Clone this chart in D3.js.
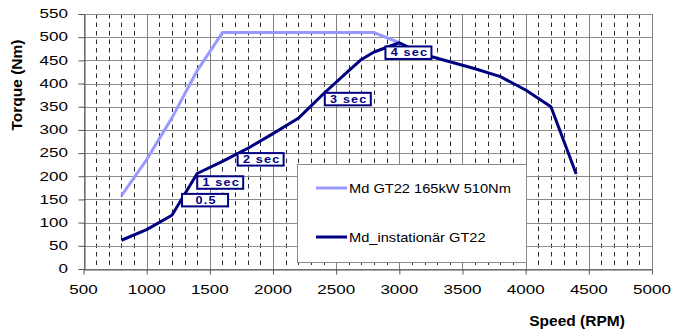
<!DOCTYPE html>
<html>
<head>
<meta charset="utf-8">
<script src="https://cdn.jsdelivr.net/npm/d3@7"></script>
<style>
  body { margin: 0; background: #fff; }
  text { font-family: "Liberation Sans", Arial, sans-serif; }
</style>
</head>
<body>
<div id="chart"></div>
<script>
// speed in RPM, torque in Nm
var fullLoadRpm = [800, 1000, 1200, 1400, 1600, 2800, 3000];
var fullLoadTorque = [158, 236, 326, 428, 510, 510, 488];

var transientRpm = [800, 1000, 1200, 1400, 1600, 1800, 2000, 2200, 2400, 2600, 2700, 2800, 3000, 3200, 3400, 3600, 3800, 4000, 4200, 4400];
var transientTorque = [62, 85, 116, 206, 232, 260, 292, 325, 378, 428, 452, 468, 488, 462, 447, 432, 415, 386, 350, 205];

var seriesNames = ["Md GT22 165kW 510Nm", "Md_instationär GT22"];
var seriesColors = ["#9999ff", "#000080"];

var xTicks = [500, 1000, 1500, 2000, 2500, 3000, 3500, 4000, 4500, 5000];
var yTicks = [0, 50, 100, 150, 200, 250, 300, 350, 400, 450, 500, 550];

// time markers along the transient curve (box anchor: rpm, torque)
var markerLabels = ["0.5", "1 sec", "2 sec", "3 sec", "4 sec"];
var markerRpm = [1280, 1400, 1720, 2410, 2890];
var markerTorque = [162, 200, 250, 380, 480];

var width = 673, height = 331;
var margin = {left: 83.5, right: 21, top: 14, bottom: 62};

var svg = d3.select("#chart").append("svg")
  .attr("width", width)
  .attr("height", height);

var x = d3.scaleLinear().domain([500, 5000]).range([margin.left, width - margin.right]);
var y = d3.scaleLinear().domain([0, 550]).range([height - margin.bottom, margin.top]);

var grid = svg.append("g");

// dashed minor verticals every 100 rpm
var minor = d3.range(600, 5000, 100).filter(function (v) { return v % 500 !== 0; });
grid.selectAll(".minor")
  .data(minor)
  .enter()
  .append("line")
  .attr("x1", function (d) { return Math.round(x(d)) + 0.5; })
  .attr("x2", function (d) { return Math.round(x(d)) + 0.5; })
  .attr("y1", y(550))
  .attr("y2", y(0))
  .attr("stroke", "#111")
  .attr("stroke-width", 0.9)
  .attr("stroke-dasharray", "4.5,4");

// solid horizontal grid
grid.selectAll(".hgrid")
  .data(yTicks)
  .enter()
  .append("line")
  .attr("x1", x(500))
  .attr("x2", x(5000))
  .attr("y1", function (d) { return Math.round(y(d)) + 0.5; })
  .attr("y2", function (d) { return Math.round(y(d)) + 0.5; })
  .attr("stroke", "#8c8c8c")
  .attr("stroke-width", 1);

// solid vertical grid
grid.selectAll(".vgrid")
  .data(xTicks)
  .enter()
  .append("line")
  .attr("x1", function (d) { return Math.round(x(d)) + 0.5; })
  .attr("x2", function (d) { return Math.round(x(d)) + 0.5; })
  .attr("y1", y(550))
  .attr("y2", y(0))
  .attr("stroke", "#808080")
  .attr("stroke-width", 1);

// axes
var xAxis = svg.append("g")
  .attr("transform", "translate(0," + (Math.round(y(0)) + 0.5) + ")")
  .call(d3.axisBottom(x).tickValues(xTicks).tickSize(5).tickSizeOuter(0).tickFormat(""));
var yAxis = svg.append("g")
  .attr("transform", "translate(" + (Math.round(x(500)) + 0.5) + ",0)")
  .call(d3.axisLeft(y).tickValues(yTicks).tickSize(6).tickSizeOuter(0).tickFormat(""));
[xAxis, yAxis].forEach(function (a) {
  a.select(".domain").attr("stroke", "#555");
  a.selectAll(".tick line").attr("stroke", "#555");
});

// tick labels, glyphs are stretched horizontally in the original
svg.append("g").selectAll("text")
  .data(xTicks)
  .enter()
  .append("text")
  .attr("transform", function (d) { return "translate(" + x(d) + ",294) scale(1.42,1)"; })
  .attr("text-anchor", "middle")
  .attr("font-size", 12)
  .attr("fill", "#000")
  .text(function (d) { return d; });

svg.append("g").selectAll("text")
  .data(yTicks)
  .enter()
  .append("text")
  .attr("transform", function (d) { return "translate(68," + (y(d) + 4.3) + ") scale(1.42,1)"; })
  .attr("text-anchor", "end")
  .attr("font-size", 12)
  .attr("fill", "#000")
  .text(function (d) { return d; });

// axis titles
svg.append("text")
  .attr("transform", "translate(22,85) rotate(-90)")
  .attr("text-anchor", "middle")
  .attr("font-size", 15.5)
  .attr("font-weight", "bold")
  .text("Torque (Nm)");

svg.append("text")
  .attr("x", 577)
  .attr("y", 326)
  .attr("text-anchor", "middle")
  .attr("font-size", 15.5)
  .attr("font-weight", "bold")
  .text("Speed (RPM)");

// lines
var line = d3.line()
  .x(function (d) { return x(d[0]); })
  .y(function (d) { return y(d[1]); });

var series = [d3.zip(fullLoadRpm, fullLoadTorque), d3.zip(transientRpm, transientTorque)];
svg.append("g").selectAll("path")
  .data(series)
  .enter()
  .append("path")
  .attr("d", line)
  .attr("fill", "none")
  .attr("stroke", function (d, i) { return seriesColors[i]; })
  .attr("stroke-width", 3)
  .attr("stroke-linejoin", "round");

// time marker boxes
var markers = svg.append("g").selectAll("g")
  .data(markerLabels)
  .enter()
  .append("g")
  .attr("transform", function (d, i) {
    return "translate(" + x(markerRpm[i]) + "," + y(markerTorque[i]) + ")";
  });
markers.append("rect")
  .attr("width", 46)
  .attr("height", 12.5)
  .attr("fill", "#fff")
  .attr("stroke", "#000080")
  .attr("stroke-width", 2);
markers.append("text")
  .attr("transform", "translate(24,10) scale(1.15,1)")
  .attr("text-anchor", "middle")
  .attr("font-size", 11)
  .attr("font-weight", "bold")
  .attr("letter-spacing", 1)
  .attr("fill", "#000080")
  .text(function (d) { return d; });

// legend
var legend = svg.append("g").attr("transform", "translate(297,164)");
legend.append("rect")
  .attr("x", 0.5)
  .attr("y", 0.5)
  .attr("width", 229)
  .attr("height", 98)
  .attr("fill", "#fff")
  .attr("stroke", "#8c8c8c");

var entry = legend.selectAll(".entry")
  .data(seriesNames)
  .enter()
  .append("g")
  .attr("transform", function (d, i) { return "translate(0," + (24 + i * 49) + ")"; });
entry.append("line")
  .attr("x1", 19)
  .attr("x2", 50)
  .attr("stroke", function (d, i) { return seriesColors[i]; })
  .attr("stroke-width", 3);
entry.append("text")
  .attr("transform", "translate(52,4.5) scale(1.2,1)")
  .attr("font-size", 12.2)
  .attr("fill", "#000")
  .text(function (d) { return d; });
</script>
</body>
</html>
